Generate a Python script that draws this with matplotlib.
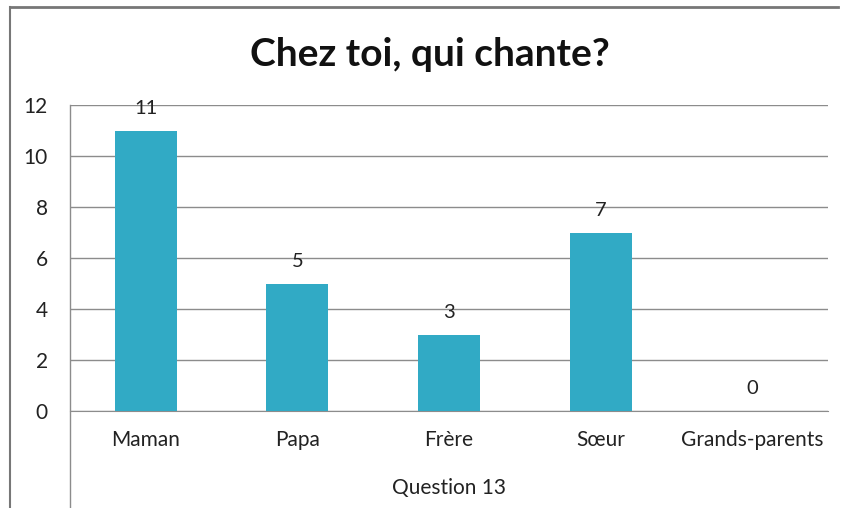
import matplotlib.pyplot as plt
from matplotlib.lines import Line2D

categories = ['Maman', 'Papa', 'Frère', 'Sœur', 'Grands-parents']
values = [11, 5, 3, 7, 0]
y_ticks = [0, 2, 4, 6, 8, 10, 12]

BAR_COLOR = '#31aac5'
GRID_COLOR = '#8c8c8c'

plt.rcParams['font.family'] = ['Lato', 'DejaVu Sans']

fig = plt.figure(figsize=(8.43, 5.08), dpi=100)
ax = fig.add_axes([70 / 843, 1 - 411 / 508, 758 / 843, 306 / 508])

x = range(len(categories))
bars = ax.bar(x, values, width=0.41, color=BAR_COLOR, zorder=3)
for rect, v in zip(bars, values):
    ax.annotate(str(v), (rect.get_x() + rect.get_width() / 2, v),
                xytext=(0, 16), textcoords='offset points',
                ha='center', va='center', fontsize=14.5, color='#222222')

ax.set_xlim(-0.5, len(categories) - 0.5)
ax.set_ylim(0, 12)
ax.set_yticks(y_ticks)
ax.set_xticks(list(x))
ax.set_xticklabels(categories)
ax.tick_params(axis='both', length=0, labelsize=15, colors='#222222')
ax.tick_params(axis='y', pad=16)
ax.tick_params(axis='x', pad=14)
ax.yaxis.grid(True, color=GRID_COLOR, linewidth=1.0, zorder=0)
for side in ['top', 'right', 'left']:
    ax.spines[side].set_visible(False)
ax.spines['bottom'].set_color(GRID_COLOR)
ax.set_xlabel('Question 13', fontsize=15, labelpad=20, color='#222222')

# vertical line on the left running down past the labels
fig.add_artist(Line2D([70 / 843, 70 / 843], [0, 1 - 105 / 508],
                      color=GRID_COLOR, linewidth=1.0))
# outer frame (top and left)
fig.add_artist(Line2D([10 / 843, 838 / 843], [1 - 7 / 508, 1 - 7 / 508],
                      color='#777777', linewidth=2.0))
fig.add_artist(Line2D([10 / 843, 10 / 843], [0, 1 - 7 / 508],
                      color='#777777', linewidth=1.5))

fig.text(0.51, 1 - 55 / 508, 'Chez toi, qui chante?', ha='center', va='center',
         fontsize=28, fontweight='bold', color='#111111')

fig.savefig('out.png', dpi=100)
